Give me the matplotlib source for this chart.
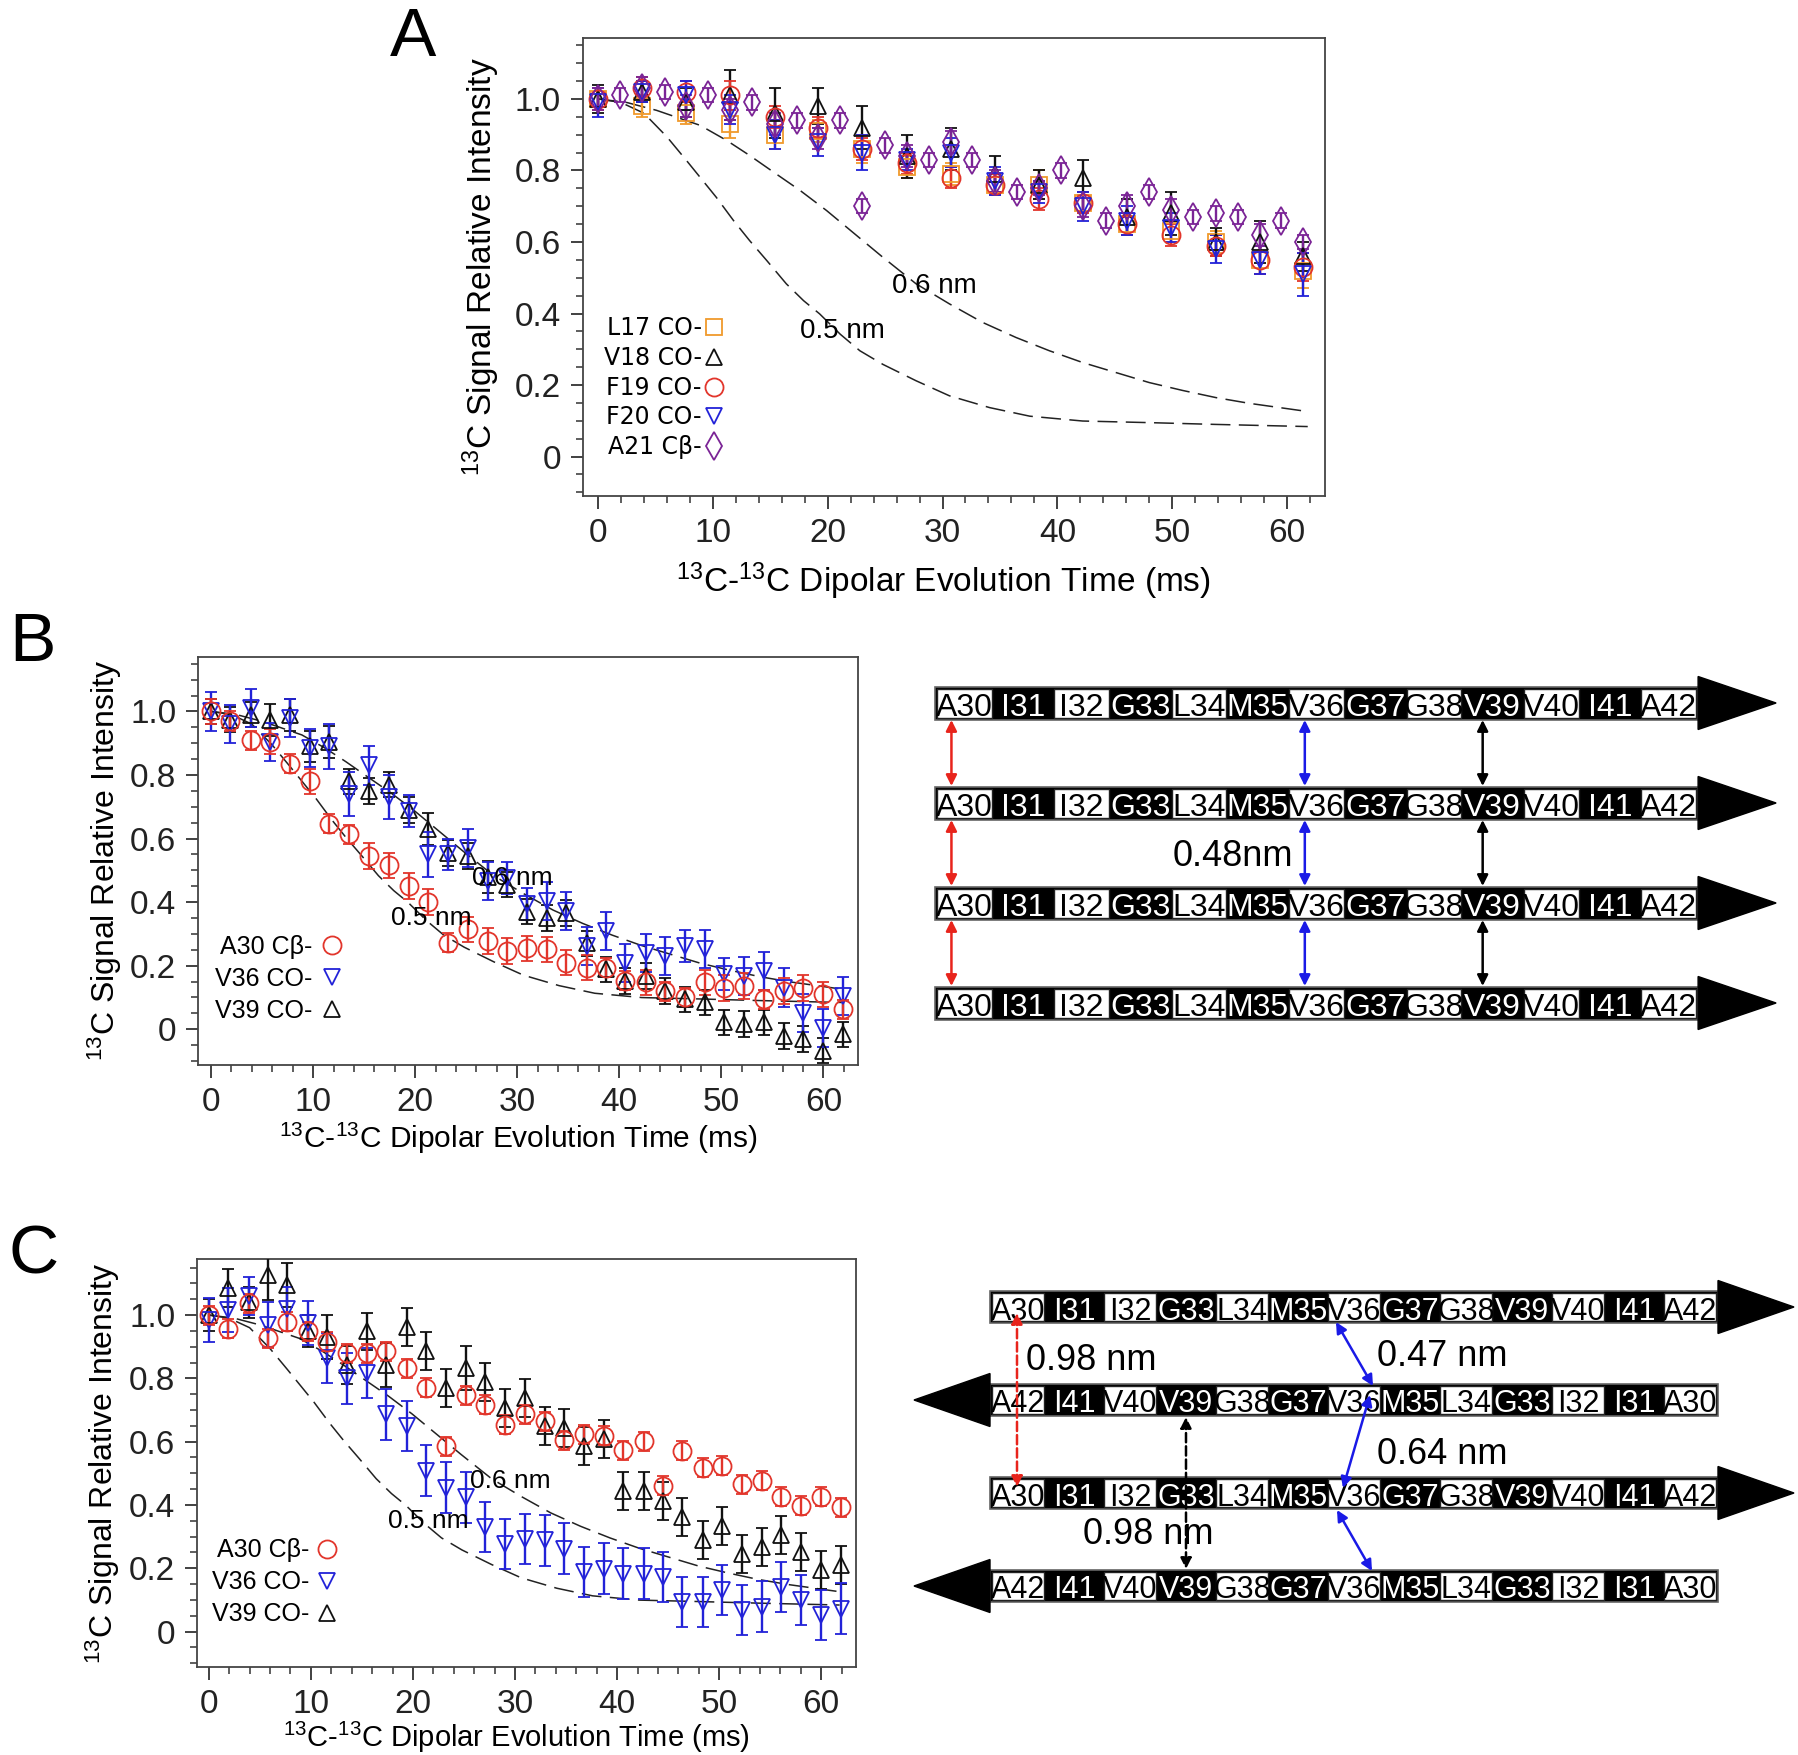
import matplotlib
matplotlib.use('Agg')
import matplotlib.pyplot as plt
from matplotlib.lines import Line2D
from matplotlib.patches import Rectangle, Polygon
from matplotlib.ticker import MultipleLocator, FuncFormatter

plt.rcParams['font.family'] = ['Liberation Sans', 'DejaVu Sans']
plt.rcParams['mathtext.fontset'] = 'custom'
plt.rcParams['mathtext.rm'] = 'Liberation Sans'
plt.rcParams['mathtext.it'] = 'Liberation Sans:italic'
NARROW = ['Liberation Sans Narrow', 'Liberation Sans', 'DejaVu Sans']

# ---------------- data: panel A ----------------
tA = [0.0, 1.9, 3.8, 5.8, 7.7, 9.6, 11.5, 13.4, 15.4, 17.3, 19.2, 21.1, 23.0, 25.0, 26.9, 28.8, 30.7,
      32.6, 34.6, 36.5, 38.4, 40.3, 42.2, 44.2, 46.1, 48.0, 49.9, 51.8, 53.8, 55.7, 57.6, 59.5, 61.4]
tA_co = [0.0, 3.8, 7.7, 11.5, 15.4, 19.2, 23.0, 26.9, 30.7, 34.6, 38.4, 42.2, 46.1, 49.9, 53.8, 57.6, 61.4]
L17 = [1.00, 0.98, 0.96, 0.93, 0.90, 0.91, 0.86, 0.81, 0.79, 0.76, 0.76, 0.71, 0.65, 0.63, 0.60, 0.55, 0.52]
L17_err = [0.03, 0.03, 0.03, 0.04, 0.04, 0.03, 0.04, 0.03, 0.03, 0.03, 0.04, 0.03, 0.03, 0.03, 0.03, 0.04, 0.05]
V18 = [1.00, 1.02, 0.99, 1.01, 0.96, 0.98, 0.92, 0.84, 0.86, 0.79, 0.76, 0.78, 0.67, 0.68, 0.60, 0.60, 0.56]
V18_err = [0.04, 0.03, 0.04, 0.07, 0.07, 0.05, 0.06, 0.06, 0.06, 0.05, 0.04, 0.05, 0.05, 0.06, 0.04, 0.06, 0.04]
F19 = [1.00, 1.03, 1.02, 1.01, 0.95, 0.92, 0.86, 0.82, 0.78, 0.76, 0.72, 0.71, 0.65, 0.62, 0.59, 0.55, 0.53]
F19_err = [0.03, 0.03, 0.03, 0.04, 0.03, 0.03, 0.03, 0.03, 0.03, 0.03, 0.03, 0.03, 0.03, 0.03, 0.03, 0.04, 0.04]
F20 = [0.99, 1.02, 1.01, 0.97, 0.90, 0.88, 0.85, 0.83, 0.85, 0.77, 0.74, 0.70, 0.66, 0.64, 0.58, 0.55, 0.51]
F20_err = [0.04, 0.03, 0.04, 0.04, 0.04, 0.04, 0.05, 0.03, 0.04, 0.04, 0.03, 0.04, 0.04, 0.04, 0.04, 0.04, 0.06]
A21 = [1.00, 1.01, 1.03, 1.02, 0.98, 1.01, 0.97, 0.99, 0.93, 0.94, 0.89, 0.94, 0.70, 0.87, 0.84, 0.83, 0.88,
       0.83, 0.77, 0.74, 0.75, 0.80, 0.70, 0.66, 0.70, 0.74, 0.69, 0.67, 0.68, 0.67, 0.62, 0.66, 0.60]
A21_err = [0.03, 0.02, 0.03, 0.02, 0.03, 0.02, 0.03, 0.02, 0.03, 0.02, 0.03, 0.02, 0.02, 0.02, 0.03, 0.02, 0.03,
           0.02, 0.03, 0.02, 0.02, 0.02, 0.03, 0.02, 0.03, 0.02, 0.03, 0.02, 0.02, 0.02, 0.03, 0.02, 0.02]

# ---------------- data: panels B and C ----------------
tBC = [0.0, 1.9, 3.9, 5.8, 7.7, 9.7, 11.6, 13.5, 15.5, 17.4, 19.4, 21.3, 23.2, 25.2, 27.1, 29.0, 31.0,
       32.9, 34.8, 36.8, 38.7, 40.6, 42.6, 44.5, 46.4, 48.4, 50.3, 52.2, 54.2, 56.1, 58.0, 60.0, 61.9]
B_A30 = [1.00, 0.97, 0.91, 0.905, 0.835, 0.78, 0.646, 0.613, 0.545, 0.516, 0.45, 0.40, 0.272, 0.314, 0.277,
         0.246, 0.254, 0.251, 0.209, 0.194, 0.194, 0.152, 0.147, 0.12, 0.10, 0.147, 0.13, 0.136, 0.094, 0.12,
         0.129, 0.11, 0.063]
B_A30_err = [0.04, 0.03, 0.03, 0.04, 0.03, 0.04, 0.03, 0.03, 0.04, 0.04, 0.04, 0.04, 0.03, 0.04, 0.04, 0.04,
             0.04, 0.04, 0.04, 0.04, 0.03, 0.03, 0.04, 0.03, 0.03, 0.04, 0.04, 0.04, 0.03, 0.04, 0.04, 0.04, 0.03]
B_V36 = [1.00, 0.96, 1.01, 0.905, 0.98, 0.885, 0.89, 0.74, 0.83, 0.73, 0.686, 0.55, 0.55, 0.57, 0.466, 0.476,
         0.393, 0.403, 0.372, 0.262, 0.309, 0.209, 0.24, 0.23, 0.262, 0.251, 0.173, 0.168, 0.183, 0.131,
         0.052, 0.005, 0.105]
B_V36_err = [0.06, 0.06, 0.06, 0.06, 0.06, 0.06, 0.07, 0.07, 0.06, 0.07, 0.05, 0.07, 0.05, 0.06, 0.06, 0.05,
             0.05, 0.06, 0.06, 0.06, 0.06, 0.06, 0.06, 0.06, 0.05, 0.06, 0.05, 0.06, 0.06, 0.06, 0.06, 0.06, 0.06]
B_V39 = [1.00, 0.974, 0.99, 0.974, 0.99, 0.89, 0.905, 0.78, 0.75, 0.77, 0.69, 0.63, 0.555, 0.545, 0.48, 0.455,
         0.37, 0.35, 0.366, 0.27, 0.188, 0.152, 0.168, 0.12, 0.094, 0.084, 0.021, 0.016, 0.021, -0.021,
         -0.031, -0.068, -0.016]
B_V39_err = [0.04, 0.04, 0.04, 0.05, 0.05, 0.05, 0.05, 0.04, 0.04, 0.04, 0.04, 0.05, 0.04, 0.04, 0.05, 0.04,
             0.04, 0.04, 0.04, 0.04, 0.04, 0.04, 0.04, 0.04, 0.04, 0.04, 0.04, 0.04, 0.04, 0.04, 0.04, 0.04, 0.04]

C_A30 = [1.00, 0.956, 1.037, 0.927, 0.979, 0.948, 0.916, 0.88, 0.88, 0.885, 0.832, 0.77, 0.586, 0.747, 0.717,
         0.654, 0.686, 0.665, 0.604, 0.623, 0.618, 0.573, 0.602, 0.461, 0.571, 0.518, 0.524, 0.466, 0.476,
         0.426, 0.398, 0.426, 0.393]
C_A30_err = [0.03, 0.03, 0.03, 0.03, 0.03, 0.03, 0.03, 0.03, 0.03, 0.03, 0.03, 0.03, 0.03, 0.03, 0.03, 0.03,
             0.03, 0.03, 0.03, 0.03, 0.03, 0.03, 0.03, 0.03, 0.03, 0.03, 0.03, 0.03, 0.03, 0.03, 0.03, 0.03, 0.03]
C_V36 = [0.984, 1.015, 1.06, 0.97, 1.02, 0.974, 0.864, 0.80, 0.817, 0.686, 0.65, 0.508, 0.455, 0.424, 0.33,
         0.277, 0.293, 0.288, 0.262, 0.188, 0.199, 0.183, 0.183, 0.173, 0.094, 0.094, 0.131, 0.068, 0.079,
         0.141, 0.10, 0.052, 0.073]
C_V36_err = [0.07, 0.07, 0.06, 0.07, 0.07, 0.07, 0.08, 0.08, 0.08, 0.08, 0.08, 0.08, 0.08, 0.08, 0.08, 0.08,
             0.08, 0.08, 0.08, 0.08, 0.08, 0.08, 0.08, 0.08, 0.08, 0.08, 0.08, 0.08, 0.08, 0.08, 0.08, 0.08, 0.08]
C_V39 = [1.00, 1.084, 1.04, 1.126, 1.094, 0.95, 0.93, 0.843, 0.948, 0.843, 0.963, 0.885, 0.77, 0.832, 0.79,
         0.707, 0.738, 0.65, 0.644, 0.586, 0.607, 0.445, 0.445, 0.414, 0.361, 0.288, 0.335, 0.246, 0.267,
         0.304, 0.251, 0.194, 0.209]
C_V39_err = [0.05, 0.06, 0.05, 0.08, 0.07, 0.05, 0.07, 0.06, 0.06, 0.07, 0.06, 0.06, 0.06, 0.07, 0.06, 0.06,
             0.06, 0.06, 0.06, 0.06, 0.06, 0.06, 0.06, 0.06, 0.06, 0.06, 0.06, 0.06, 0.06, 0.06, 0.06, 0.06, 0.06]

# simulated decay curves
t05 = [0, 2, 4, 6, 7.7, 10.3, 11.8, 13.2, 14.7, 16.4, 17.9, 19.3, 21.1, 22.8, 24.8, 27.7, 30.6, 34.1, 37.6,
       42.2, 48.0, 53.8, 61.8]
y05 = [1.0, 0.99, 0.96, 0.894, 0.828, 0.725, 0.66, 0.604, 0.548, 0.483, 0.436, 0.399, 0.342, 0.296, 0.258,
       0.212, 0.17, 0.137, 0.113, 0.0995, 0.095, 0.09, 0.084]
t06 = [0, 2.5, 5.1, 8.9, 11.2, 13.2, 15.3, 17.6, 19.9, 22.0, 24.7, 27.7, 30.6, 33.5, 36.4, 39.3, 42.2, 45.1,
       48.0, 50.9, 53.8, 56.7, 61.8]
y06 = [1.0, 0.99, 0.968, 0.926, 0.884, 0.842, 0.795, 0.744, 0.688, 0.632, 0.56, 0.483, 0.427, 0.375, 0.333,
       0.296, 0.263, 0.235, 0.207, 0.185, 0.165, 0.149, 0.126]

# diagram content
residues = ['A30', 'I31', 'I32', 'G33', 'L34', 'M35', 'V36', 'G37', 'G38', 'V39', 'V40', 'I41', 'A42']
dark = [False, True, False, True, False, True, False, True, False, True, False, True, False]

ORANGE = '#f09a2c'
RED = '#e2352b'
BLUE = '#2222d8'
PURPLE = '#7b2496'
BLACK = '#111111'

fig = plt.figure(figsize=(17.99, 17.55), dpi=100)


def style_axes(ax, xlim, ylim):
    ax.set_xlim(*xlim)
    ax.set_ylim(*ylim)
    ax.xaxis.set_major_locator(MultipleLocator(10))
    ax.xaxis.set_minor_locator(MultipleLocator(2))
    ax.yaxis.set_major_locator(MultipleLocator(0.2))
    ax.yaxis.set_minor_locator(MultipleLocator(0.05))
    ax.yaxis.set_major_formatter(FuncFormatter(lambda v, p: '0' if abs(v) < 1e-9 else f'{v:.1f}'))
    ax.tick_params(which='major', direction='out', length=9, width=1.3, labelsize=24, pad=7,
                   colors='#333333', labelcolor='#222222')
    ax.tick_params(which='minor', direction='out', length=5, width=1.1, colors='#333333')
    for s in ax.spines.values():
        s.set_color('#444444')
        s.set_linewidth(1.3)
    for lbl in ax.get_xticklabels() + ax.get_yticklabels():
        lbl.set_fontfamily(NARROW)


def curves(ax, fs):
    ax.plot(t05, y05, color='#222222', lw=1.1, dashes=(13, 5.5), zorder=1)
    ax.plot(t06, y06, color='#222222', lw=1.1, dashes=(13, 5.5), zorder=1)
    ax.text(25.6, 0.476, '0.6 nm', fontsize=fs, family=NARROW, va='center', ha='left', zorder=5)
    ax.text(17.6, 0.35, '0.5 nm', fontsize=fs, family=NARROW, va='center', ha='left', zorder=5)


def eb(ax, t, y, e, mk, c, ms=12, z=3):
    ax.errorbar(t, y, yerr=e, fmt=mk, ls='none', mfc='none', mec=c, ecolor=c, ms=ms, mew=1.3,
                elinewidth=1.7, capsize=4.5, capthick=1.7, zorder=z)


def proxy(mk, c, ms=12):
    return Line2D([], [], marker=mk, ls='none', mfc='none', mec=c, ms=ms, mew=1.3)


# ---------------- panel A ----------------
axA = fig.add_axes([0.3241, 0.7174, 0.4124, 0.2609])
style_axes(axA, (-1.3, 63.3), (-0.11, 1.17))
curves(axA, 20)
eb(axA, tA_co, L17, L17_err, 's', ORANGE, ms=11)
eb(axA, tA_co, V18, V18_err, '^', BLACK, ms=12)
eb(axA, tA_co, F19, F19_err, 'o', RED, ms=13)
eb(axA, tA_co, F20, F20_err, 'v', BLUE, ms=12)
eb(axA, tA, A21, A21_err, 'd', PURPLE, ms=14)
axA.legend([proxy('s', ORANGE, 11), proxy('^', BLACK), proxy('o', RED, 13), proxy('v', BLUE), proxy('d', PURPLE, 14)],
           ['L17 CO-', 'V18 CO-', 'F19 CO-', 'F20 CO-', 'A21 C\u03b2-'],
           loc='upper left', bbox_to_anchor=(0.028, 0.392), frameon=False, markerfirst=False,
           handlelength=0.7, handletextpad=0.15, labelspacing=0.24, borderpad=0, borderaxespad=0,
           prop={'family': 'DejaVu Sans', 'size': 17})
axA.set_ylabel(r'$^{13}$C Signal Relative Intensity', fontsize=24)
axA.yaxis.set_label_coords(-0.109, 0.5)
axA.set_xlabel(r'$^{13}$C-$^{13}$C Dipolar Evolution Time (ms)', fontsize=24)
axA.xaxis.set_label_coords(0.485, -0.14)

# ---------------- panel B ----------------
axB = fig.add_axes([0.1103, 0.3933, 0.3667, 0.2321])
style_axes(axB, (-1.24, 63.4), (-0.112, 1.17))
curves(axB, 19)
eb(axB, tBC, B_V39, B_V39_err, '^', BLACK, ms=11)
eb(axB, tBC, B_V36, B_V36_err, 'v', BLUE, ms=11)
eb(axB, tBC, B_A30, B_A30_err, 'o', RED, ms=13)
axB.legend([proxy('o', RED, 13), proxy('v', BLUE, 11), proxy('^', BLACK, 11)],
           ['A30 C\u03b2-', 'V36 CO-', 'V39 CO-'],
           loc='upper left', bbox_to_anchor=(0.025, 0.319), frameon=False, markerfirst=False,
           handlelength=0.8, handletextpad=0.4, labelspacing=0.32, borderpad=0, borderaxespad=0,
           prop={'size': 18})
axB.set_ylabel(r'$^{13}$C Signal Relative Intensity', fontsize=23)
axB.yaxis.set_label_coords(-0.113, 0.503)
axB.set_xlabel(r'$^{13}$C-$^{13}$C Dipolar Evolution Time (ms)', fontsize=21.5)
axB.xaxis.set_label_coords(0.485, -0.138)

# ---------------- panel C ----------------
axC = fig.add_axes([0.1097, 0.0501, 0.3661, 0.2327])
style_axes(axC, (-1.12, 63.4), (-0.112, 1.178))
curves(axC, 19)
eb(axC, tBC, C_V39, C_V39_err, '^', BLACK, ms=11)
eb(axC, tBC, C_V36, C_V36_err, 'v', BLUE, ms=11)
eb(axC, tBC, C_A30, C_A30_err, 'o', RED, ms=13)
axC.legend([proxy('o', RED, 13), proxy('v', BLUE, 11), proxy('^', BLACK, 11)],
           ['A30 C\u03b2-', 'V36 CO-', 'V39 CO-'],
           loc='upper left', bbox_to_anchor=(0.023, 0.315), frameon=False, markerfirst=False,
           handlelength=0.8, handletextpad=0.3, labelspacing=0.32, borderpad=0, borderaxespad=0,
           prop={'size': 18})
axC.set_ylabel(r'$^{13}$C Signal Relative Intensity', fontsize=23)
axC.yaxis.set_label_coords(-0.115, 0.5)
axC.set_xlabel(r'$^{13}$C-$^{13}$C Dipolar Evolution Time (ms)', fontsize=21)
axC.xaxis.set_label_coords(0.484, -0.128)

# ---------------- overlay: diagrams & panel letters ----------------
ov = fig.add_axes([0, 0, 1, 1])
ov.set_xlim(0, 1799)
ov.set_ylim(1755, 0)
ov.axis('off')

ov.text(413, 38, 'A', fontsize=50, ha='center', va='center')
ov.text(32, 643, 'B', fontsize=50, ha='center', va='center')
ov.text(34, 1256, 'C', fontsize=50, ha='center', va='center')


def strand(x0, yc, w, hb, ha, tip, direction, fs):
    labs = residues if direction > 0 else residues[::-1]
    drk = dark if direction > 0 else dark[::-1]
    n = len(labs)
    xend = x0 + n * w
    ov.add_patch(Rectangle((x0, yc - hb), n * w, 2 * hb, fc='black', ec='#666666', lw=1.2, zorder=2))
    for i, (lab, d) in enumerate(zip(labs, drk)):
        xi = x0 + i * w
        if not d:
            ov.add_patch(Rectangle((xi + 2, yc - hb + 2), w - 4, 2 * hb - 4, fc='white', ec='#222222',
                                   lw=1.0, zorder=3))
        ov.text(xi + w / 2, yc + 1, lab, color='white' if d else 'black', ha='center',
                va='center_baseline', fontsize=fs, zorder=4)
    if direction > 0:
        tri = [(xend, yc - ha), (xend + tip, yc), (xend, yc + ha)]
    else:
        tri = [(x0, yc - ha), (x0 - tip, yc), (x0, yc + ha)]
    ov.add_patch(Polygon(tri, closed=True, fc='black', ec='black', zorder=2))


def darrow(x1, y1, x2, y2, c, ls='-'):
    ov.annotate('', xy=(x2, y2), xytext=(x1, y1),
                arrowprops=dict(arrowstyle='<|-|>', color=c, lw=1.8, ls=ls, mutation_scale=16,
                                shrinkA=0, shrinkB=0), zorder=6)


# panel B diagram
wB, x0B = 58.7, 935
rowsB = [703, 803, 903, 1003]
for yc in rowsB:
    strand(x0B, yc, wB, 16.5, 26.5, 78, 1, 23)
for k in range(3):
    ya, yb = rowsB[k] + 17, rowsB[k + 1] - 17
    darrow(x0B + 0.28 * wB, ya, x0B + 0.28 * wB, yb, '#e8241c')
    darrow(x0B + 6.3 * wB, ya, x0B + 6.3 * wB, yb, '#1a1ae6')
    darrow(x0B + 9.33 * wB, ya, x0B + 9.33 * wB, yb, 'black')
ov.text(1293, 856, '0.48nm', fontsize=26, ha='right', va='center')

# panel C diagram
wC, x0C = 56.0, 990
rowsC = [1307, 1400, 1493, 1586]
for k, yc in enumerate(rowsC):
    strand(x0C, yc, wC, 16, 26.5, 76, 1 if k % 2 == 0 else -1, 22)
darrow(1017, 1313, 1017, 1487, '#e8241c', ls='--')
darrow(1336, 1322, 1373, 1386, '#1a1ae6')
darrow(1370, 1395, 1343, 1488, '#1a1ae6')
darrow(1337, 1510, 1372, 1571, '#1a1ae6')
darrow(1186, 1417, 1186, 1569, 'black', ls='--')
ov.text(1026, 1360, '0.98 nm', fontsize=26, ha='left', va='center')
ov.text(1377, 1357, '0.47 nm', fontsize=26, ha='left', va='center')
ov.text(1377, 1454, '0.64 nm', fontsize=26, ha='left', va='center')
ov.text(1083, 1535, '0.98 nm', fontsize=26, ha='left', va='center', zorder=7)

fig.savefig('out.png', dpi=100)
